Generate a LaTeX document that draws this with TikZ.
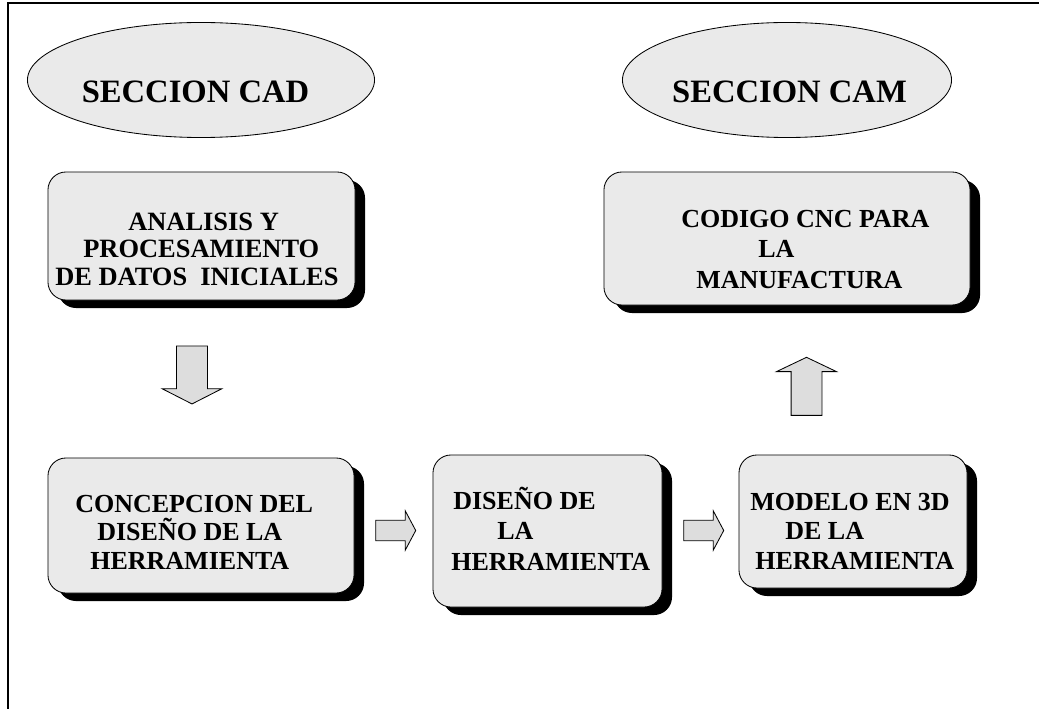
\documentclass[tikz,border=0pt]{standalone}
\usepackage{fontspec}
\setmainfont{Liberation Serif}
\usetikzlibrary{shapes,shapes.geometric,shapes.arrows,shadows}
\definecolor{boxgray}{RGB}{234,234,234}
\definecolor{arrowgray}{RGB}{221,221,221}
\tikzset{
	roundbox/.style={rectangle, rounded corners=0.45cm, draw=black, line width=0.6pt, fill=boxgray, drop shadow={shadow xshift=0.25cm, shadow yshift=-0.2cm, fill=black, opacity=1}},
	sectionellipse/.style={ellipse, draw=black, line width=0.6pt, fill=boxgray, inner sep=0pt, minimum height=2.875cm},
	bigarrow/.style={single arrow, draw=black, line width=0.6pt, fill=arrowgray, inner sep=0.375cm, minimum height=1.45cm, minimum width=1.475cm, single arrow head extend=0.3625cm, single arrow tip angle=126},
	smallarrow/.style={single arrow, draw=black, line width=0.6pt, fill=arrowgray, inner xsep=0pt, inner ysep=0.244cm, minimum height=1cm, minimum width=0.95cm, single arrow head extend=0.2375cm, single arrow tip angle=124},
	boxtext/.style={anchor=north west, inner sep=0pt, align=left},
	titletext/.style={inner sep=0pt, font=\bfseries\fontsize{23.2}{26}\selectfont}
}
\begin{document}
\begin{tikzpicture}[x=0.025cm,y=-0.025cm]
	\useasboundingbox (0,0) rectangle (1039,709);
	\draw[line width=1.8pt] (8,709) -- (8,3) -- (1039,3);

	\node[sectionellipse, minimum width=8.675cm] (cad) at (201,80) {};
	\node[titletext] (cadtext) at (195.5,92) {SECCION CAD};
	\node[sectionellipse, minimum width=8.225cm] (cam) at (787,80) {};
	\node[titletext] (camtext) at (789.5,92) {SECCION CAM};

	\node[roundbox, minimum width=7.675cm, minimum height=3.2cm] (analisis) at (201.5,236) {};
	\node[boxtext, font=\bfseries\fontsize{18.8}{19.6}\selectfont] (analisistext) at (55,212.5)
		{\hspace*{1.825cm}ANALISIS Y\\ \hspace*{0.7cm}PROCESAMIENTO\\ DE DATOS\ \ INICIALES};
	\node[roundbox, minimum width=9.15cm, minimum height=3.325cm] (codigo) at (787,238.5) {};
	\node[boxtext, font=\bfseries\fontsize{18.5}{21.7}\selectfont] (codigotext) at (681,209.5)
		{CODIGO CNC PARA\\ \hspace*{1.925cm}LA\\ \hspace*{0.375cm}MANUFACTURA};

	\node[roundbox, minimum width=7.65cm, minimum height=3.375cm] (concepcion) at (201,525.5) {};
	\node[boxtext, font=\bfseries\fontsize{18.5}{20.3}\selectfont] (concepciontext) at (75,494.5)
		{CONCEPCION DEL\\ \hspace*{0.55cm}DISEÑO DE LA\\ \hspace*{0.375cm}HERRAMIENTA};
	\node[roundbox, minimum width=5.725cm, minimum height=3.8cm] (diseno) at (547.5,531) {};
	\node[boxtext, font=\bfseries\fontsize{18.5}{21.7}\selectfont] (disenotext) at (451,491.5)
		{\hspace*{0.05cm}DISE\smash{Ñ}O DE\\ \hspace*{1.15cm}LA\\ HERRAMIENTA};
	\node[roundbox, minimum width=5.7cm, minimum height=3.325cm] (modelo) at (853,521.5) {};
	\node[boxtext, font=\bfseries\fontsize{18.5}{21.3}\selectfont] (modelotext) at (750,492.5)
		{MODELO EN 3D\\ \hspace*{0.875cm}DE LA\\ \hspace*{0.125cm}HERRAMIENTA};

	\node[bigarrow, shape border rotate=270] (flechaa) at (192,371) {};
	\node[smallarrow] (flechab) at (393,530.5) {};
	\node[smallarrow] (flechac) at (701,530.5) {};
	\node[bigarrow, shape border rotate=90, single arrow tip angle=129] (flechad) at (806.5,390) {};
\end{tikzpicture}
\end{document}
